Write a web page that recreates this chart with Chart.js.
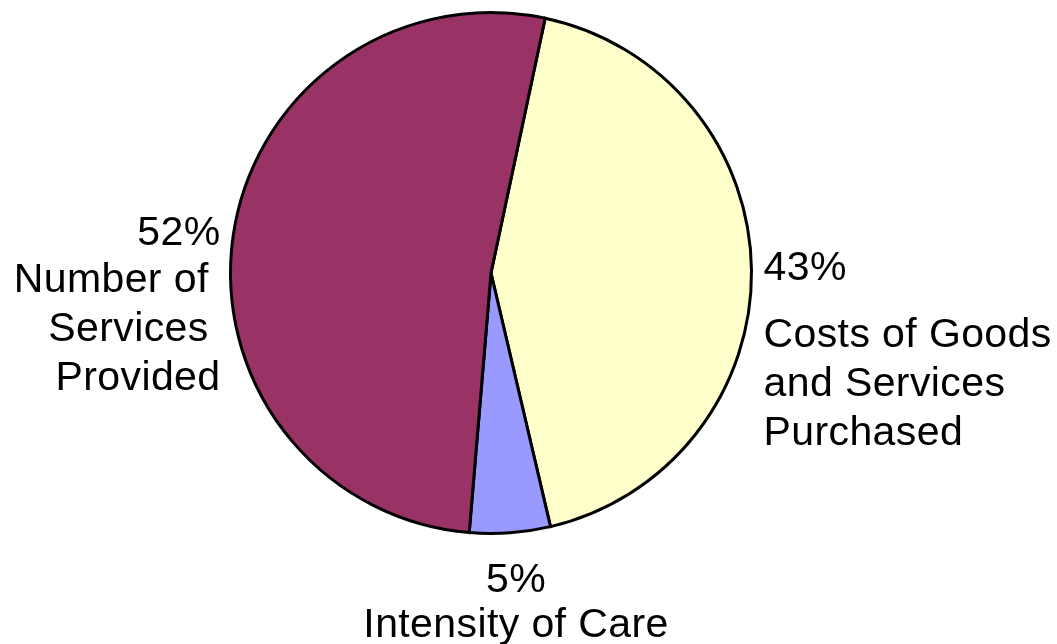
<!DOCTYPE html>
<html>
<head>
<meta charset="utf-8">
<title>Pie chart</title>
<script src="https://cdn.jsdelivr.net/npm/chart.js@4/dist/chart.umd.min.js"></script>
<style>
  html, body { margin: 0; padding: 0; background: #fff; }
  #wrap { width: 1057px; height: 644px; position: relative; }
</style>
</head>
<body>
<div id="wrap"><canvas id="pie"></canvas></div>
<script>
// Data, in drawing order (clockwise from the rotation start)
const categories = ['Costs of Goods and Services Purchased', 'Intensity of Care', 'Number of Services Provided'];
const values = [43, 5, 52];
const labelLines = [
  ['Costs of Goods', 'and Services', 'Purchased'],
  ['Intensity of Care'],
  ['Number of ', 'Services ', 'Provided']
];
const colors = ['#FFFFCC', '#9999FF', '#993366'];

// where each text block sits, relative to the pie centre and radius
const labelPlace = [
  { side: 'right', gap: 12, pctY: 7, firstY: 74, step: 49 },
  { side: 'bottom', dx: 25, pctY: 58, firstY: 103, step: 45 },
  { side: 'left', gap: 10, pctY: -28, firstY: 19, step: 49 }
];

const pieLabels = {
  id: 'pieLabels',
  afterDatasetsDraw(chart) {
    const ctx = chart.ctx;
    const arcs = chart.getDatasetMeta(0).data;
    if (!arcs.length) return;
    const cx = arcs[0].x, cy = arcs[0].y, r = arcs[0].outerRadius;
    ctx.save();
    ctx.fillStyle = '#000';
    ctx.font = '41px "Liberation Sans", Arial, sans-serif';
    ctx.letterSpacing = '0.4px';
    ctx.textBaseline = 'alphabetic';
    values.forEach((v, i) => {
      const p = labelPlace[i];
      const lines = [v + '%'].concat(labelLines[i]);
      let x, y0;
      if (p.side === 'right') { ctx.textAlign = 'left'; x = cx + r + p.gap; y0 = cy; }
      else if (p.side === 'left') { ctx.textAlign = 'right'; x = cx - r - p.gap; y0 = cy; }
      else { ctx.textAlign = 'center'; x = cx + p.dx; y0 = cy + r; }
      lines.forEach((t, k) => {
        const y = k === 0 ? y0 + p.pctY : y0 + p.firstY + (k - 1) * p.step;
        ctx.fillText(t, x, y);
      });
    });
    ctx.restore();
  }
};

new Chart(document.getElementById('pie'), {
  type: 'pie',
  data: {
    labels: categories,
    datasets: [{
      data: values,
      backgroundColor: colors,
      borderColor: '#000',
      borderWidth: 3,
      borderJoinStyle: 'miter'
    }]
  },
  options: {
    responsive: true,
    maintainAspectRatio: false,
    animation: false,
    rotation: 12,
    layout: { padding: { left: 229, right: 304, top: 10, bottom: 108 } },
    plugins: {
      legend: { display: false },
      tooltip: { enabled: false }
    }
  },
  plugins: [pieLabels]
});
</script>
</body>
</html>
